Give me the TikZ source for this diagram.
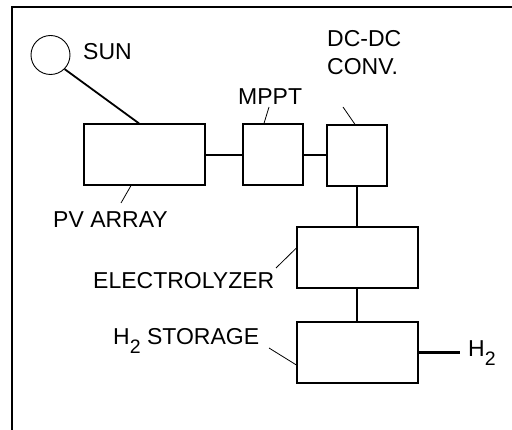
\documentclass[tikz,border=0pt]{standalone}
\usepackage{fontspec}
\setmainfont{Liberation Sans}
\usepackage{tikz}
\usetikzlibrary{calc}

\newcommand{\hsub}{H\raisebox{-9pt}{\fontsize{19.5}{19.5}\selectfont 2}}

\tikzset{
  block/.style={draw, line width=1.2pt, inner sep=0pt, minimum height=61pt},
  lbl/.style={inner sep=0pt, font=\fontsize{23}{28}\selectfont},
  lead/.style={line width=0.8pt}
}

\begin{document}
\begin{tikzpicture}[x=1pt, y=-1pt]
      \useasboundingbox (0,0) rectangle (512,430);
      \draw [line width=2pt] (12,430) -- (12,7) -- (512,7);
      % sun and boxes
      \node [draw, circle, line width=0.9pt, minimum size=39pt, inner sep=0pt] (sun) at (50.5,55) {};
      \node [block, minimum width=121pt] (pv) at (144.5,154.5) {};
      \node [block, minimum width=60pt] (mppt) at (273,154.5) {};
      \node [block, minimum width=60pt] (dcdc) at (357,155.5) {};
      \node [block, minimum width=121pt] (elec) at (357.5,257.5) {};
      \node [block, minimum width=121pt] (stor) at (357.5,352.5) {};
      % labels
      \node [lbl, anchor=base west] (sunlbl) at (83,60) {SUN};
      \node [lbl, anchor=base west] (pvlbl) at (53,228) {PV ARRAY};
      \node [lbl, anchor=base west] (mpptlbl) at (238,105) {MPPT};
      \node [lbl, anchor=base west, align=left] (dclbl) at (327,75) {DC-DC\\CONV.};
      \node [lbl, anchor=base west] (eleclbl) at (93,289) {ELECTROLYZER};
      \node [lbl, anchor=base west] (storlbl) at (113,345) {\hsub{} STORAGE};
      \node [lbl, anchor=base west] (outlbl) at (468,357) {\hsub};
      \coordinate (pvend) at (121,203);
      \coordinate (mpptend) at (269,107);
      \coordinate (dcend) at (343,107);
      \coordinate (elecend) at (276,268);
      \coordinate (storend) at (269,348);
      \coordinate (outend) at (460,352.5);
      % connections
      \draw [line width=1.8pt] (sun.-45) -- ($(pv.north)+(-5.5,0)$);
      \draw [line width=1.2pt] (pv.east |- 0,155) -- (mppt.west |- 0,155);
      \draw [line width=1.2pt] (mppt.east |- 0,155) -- (dcdc.west |- 0,155);
      \draw [line width=1.2pt] (dcdc.south) -- (elec.north -| dcdc.south);
      \draw [line width=1.2pt] (elec.south -| dcdc.south) -- (stor.north -| dcdc.south);
      \draw [line width=3pt] (stor.east) -- (outend);
      % leaders
      \draw [lead] ($(pv.south)+(-13.5,0)$) -- (pvend);
      \draw [lead] ($(mppt.north)+(-9,0)$) -- (mpptend);
      \draw [lead] ($(dcdc.north)+(-2,0)$) -- (dcend);
      \draw [lead] ($(elec.west)+(0,-9.5)$) -- (elecend);
      \draw [lead] ($(stor.west)+(0,12.5)$) -- (storend);
\end{tikzpicture}
\end{document}
